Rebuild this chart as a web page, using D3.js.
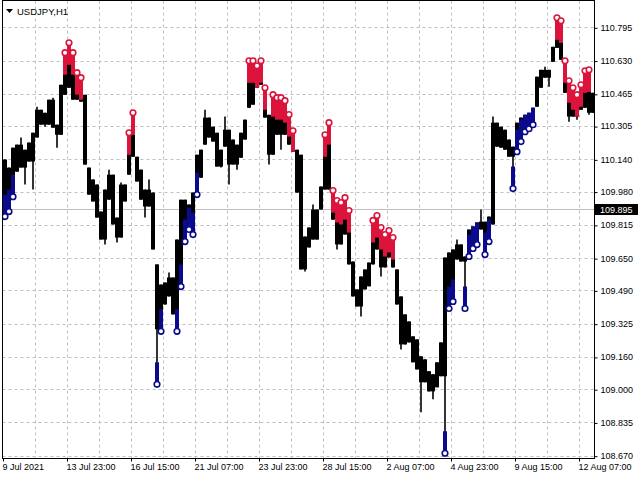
<!DOCTYPE html>
<html><head><meta charset="utf-8">
<script src="https://cdn.jsdelivr.net/npm/d3@7/dist/d3.min.js"></script>
<style>
html,body{margin:0;padding:0;background:#fff;}
svg{display:block;}
text{font-family:"Liberation Sans",Arial,sans-serif;}
</style></head>
<body>
<svg id="c" width="640" height="480"></svg>
<script>
// USDJPY H1 — each entry aggregates 4 hourly bars (high / low)
const highs = [
110.139,110.099,110.198,110.213,110.248,110.188,110.223,110.272,110.401,110.386,
110.371,110.436,110.446,110.312,110.510,110.659,110.708,110.659,110.560,110.535,
110.460,110.099,110.040,110.015,109.881,109.990,110.089,110.064,109.851,110.025,
110.015,110.262,110.361,110.153,110.089,109.990,110.040,109.975,109.619,109.519,
109.529,109.579,109.554,109.742,109.940,109.940,109.916,109.975,110.163,110.188,
110.386,110.347,110.302,110.272,110.188,110.352,110.287,110.238,110.213,110.272,
110.337,110.619,110.619,110.594,110.619,110.485,110.361,110.451,110.436,110.436,
110.421,110.352,110.272,110.188,110.163,109.757,109.802,109.916,109.891,110.005,
110.252,110.312,109.975,109.926,109.916,109.940,109.876,109.633,109.495,109.559,
109.594,109.628,109.827,109.851,109.792,109.757,109.777,109.742,109.594,109.460,
109.371,109.336,109.262,109.247,109.163,109.148,109.089,109.074,109.133,109.232,
109.653,109.678,109.693,109.742,109.718,109.658,109.792,109.807,109.827,109.891,
109.831,109.856,110.352,110.322,110.302,110.287,110.238,110.203,110.322,110.347,
110.361,110.371,110.396,110.550,110.584,110.599,110.584,110.698,110.832,110.817,
110.619,110.520,110.485,110.451,110.500,110.569,110.574,110.470
];
const lows = [
109.866,109.891,109.965,110.079,110.099,110.015,110.129,109.990,110.248,110.312,
110.302,110.312,110.297,110.198,110.262,110.460,110.495,110.436,110.436,110.426,
110.114,109.965,109.931,109.851,109.742,109.718,109.940,109.817,109.727,109.752,
109.931,110.064,110.153,110.030,109.940,109.851,109.906,109.693,109.034,109.297,
109.420,109.460,109.371,109.297,109.519,109.742,109.802,109.777,109.975,110.049,
110.213,110.248,110.228,110.104,110.099,110.203,110.015,110.114,110.089,110.148,
110.238,110.396,110.411,110.495,110.510,110.347,110.114,110.163,110.262,110.188,
110.262,110.213,110.178,109.975,109.594,109.584,109.703,109.742,109.742,109.891,
109.990,109.990,109.841,109.693,109.718,109.767,109.619,109.460,109.410,109.361,
109.495,109.510,109.619,109.693,109.559,109.604,109.653,109.604,109.420,109.197,
109.222,109.232,109.133,109.098,108.885,109.034,108.989,108.950,109.009,109.064,
108.692,109.410,109.445,109.643,109.633,109.410,109.668,109.708,109.727,109.792,
109.678,109.742,109.817,110.203,110.198,110.188,110.153,110.005,110.188,110.238,
110.287,110.302,110.322,110.401,110.495,110.545,110.500,110.624,110.693,110.634,
110.470,110.327,110.352,110.337,110.386,110.396,110.361,110.371
];
const sellSignals = [15,16,17,18,19,31,32,61,62,63,64,65,67,68,69,70,71,72,80,81,82,83,84,85,86,92,93,94,95,96,97,138,139,140,141,142,143,144,145,146];
const buySignals = [0,1,2,38,39,43,44,45,46,47,48,110,111,112,115,116,117,118,120,121,127,128,129,130,131,132];
const barsPerEntry = 4;
const tickBars = [0,64,128,192,256,320,384,448,512,576];
const tickLabels = ["9 Jul 2021","13 Jul 23:00","16 Jul 15:00","21 Jul 07:00","23 Jul 23:00","28 Jul 15:00","2 Aug 07:00","4 Aug 23:00","9 Aug 15:00","12 Aug 07:00"];
const priceTicks = [110.795,110.630,110.465,110.305,110.140,109.980,109.815,109.650,109.490,109.325,109.160,109.000,108.835,108.670];
const currentPrice = 109.895;
const symbolTitle = "USDJPY,H1";

const svg = d3.select("#c");
const L = 2.5, R = 594.5, T = 0.5, B = 458.5;
const nBars = highs.length * barsPerEntry;
const x = d3.scaleLinear().domain([0, nBars]).range([3, 3 + nBars]);
const y = d3.scaleLinear().domain([108.670, 110.795]).range([455.7, 27.3]);

svg.append("defs").append("clipPath").attr("id","pl")
  .append("rect").attr("x",L).attr("y",T).attr("width",R-L).attr("height",B-T);

const grid = svg.append("g").attr("stroke","#c0c0c0").attr("stroke-dasharray","3,3").attr("stroke-width",1);
grid.selectAll("line.h").data(priceTicks).join("line")
  .attr("x1",L).attr("x2",R)
  .attr("y1",d=>Math.round(y(d))+0.5).attr("y2",d=>Math.round(y(d))+0.5);
grid.selectAll("line.v").data(d3.range(32, nBars, 32)).join("line")
  .attr("y1",T).attr("y2",B)
  .attr("x1",d=>Math.round(x(d))+0.5).attr("x2",d=>Math.round(x(d))+0.5);

svg.append("line").attr("x1",L).attr("x2",R)
  .attr("y1",Math.round(y(currentPrice))+0.5).attr("y2",Math.round(y(currentPrice))+0.5)
  .attr("stroke","#c0c0c0").attr("stroke-width",1);

const plot = svg.append("g").attr("clip-path","url(#pl)");
const entries = highs.map((h,i)=>({i, h, l: lows[i]}));
const med3 = (arr,i)=>d3.median([arr[Math.max(0,i-1)], arr[i], arr[Math.min(arr.length-1,i+1)]]);
entries.forEach(d=>{
  d.bh = Math.min(d.h, med3(highs,d.i));
  d.bl = Math.max(d.l, med3(lows,d.i));
  if (d.bl > d.bh) { const m=(d.h+d.l)/2; d.bh=m; d.bl=m; }
});
const x0 = d=>x(d.i*barsPerEntry);
const cx = d=>x(d.i*barsPerEntry + barsPerEntry/2);

// body of each group (typical range), stepped like dense bars
plot.append("g").selectAll("rect").data(entries).join("rect")
  .attr("x",x0).attr("width",barsPerEntry)
  .attr("y",d=>y(d.bh)).attr("height",d=>Math.max(2, y(d.bl)-y(d.bh)))
  .attr("fill","#000");
// full high-low range as thin bars
plot.append("g").selectAll("line").data(entries).join("line")
  .attr("x1",cx).attr("x2",cx)
  .attr("y1",d=>y(d.h)).attr("y2",d=>y(d.l))
  .attr("stroke","#000").attr("stroke-width",1.6);

const RED = "#DC143C", BLUE = "#0A0A8C";
const depth = 20;
const sell = sellSignals.map(i=>entries[i]);
const buy = buySignals.map(i=>entries[i]);

plot.append("g").selectAll("rect").data(sell).join("rect")
  .attr("x",x0).attr("width",barsPerEntry)
  .attr("y",d=>y(d.h))
  .attr("height",d=>Math.min(depth, y(d.l)-y(d.h)))
  .attr("fill",RED);
plot.append("g").selectAll("rect").data(buy).join("rect")
  .attr("x",x0).attr("width",barsPerEntry)
  .attr("y",d=>Math.max(y(d.h), y(d.l)-depth))
  .attr("height",d=>Math.min(depth, y(d.l)-y(d.h)))
  .attr("fill",BLUE);

plot.append("g").selectAll("circle").data(sell).join("circle")
  .attr("cx",cx).attr("cy",d=>y(d.h)-2)
  .attr("r",2.8).attr("fill","#fff").attr("stroke",RED).attr("stroke-width",1.6);
plot.append("g").selectAll("circle").data(buy).join("circle")
  .attr("cx",cx).attr("cy",d=>y(d.l)+2)
  .attr("r",2.8).attr("fill","#fff").attr("stroke",BLUE).attr("stroke-width",1.6);

svg.append("rect").attr("x",L).attr("y",T).attr("width",R-L).attr("height",B-T)
  .attr("fill","none").attr("stroke","#000").attr("stroke-width",1);

const ya = svg.append("g").attr("transform",`translate(${R},0)`)
  .call(d3.axisRight(y).tickValues(priceTicks).tickFormat(d3.format(".3f")).tickSize(3).tickPadding(3));
ya.select(".domain").remove();
ya.selectAll("line").attr("stroke","#000").attr("transform","translate(0,0.5)");
ya.selectAll("text").attr("font-size","9px").attr("fill","#000")
  .attr("font-family","'Liberation Sans',Arial,sans-serif");

const xa = svg.append("g").attr("transform",`translate(0,${B})`)
  .call(d3.axisBottom(x).tickValues(tickBars).tickFormat((d,i)=>tickLabels[i]).tickSize(3).tickPadding(2));
xa.select(".domain").remove();
xa.selectAll("line").attr("stroke","#000");
xa.selectAll("text").attr("font-size","9px").attr("fill","#000").attr("text-anchor","start")
  .attr("dx","-1").attr("font-family","'Liberation Sans',Arial,sans-serif");

const cyp = Math.round(y(currentPrice))+0.5;
svg.append("rect").attr("x",595).attr("y",cyp-5.5).attr("width",43).attr("height",11).attr("fill","#000");
svg.append("text").attr("x",600).attr("y",cyp).attr("dy","0.34em")
  .attr("font-size","9px").attr("fill","#fff").text(d3.format(".3f")(currentPrice));

svg.append("path").attr("d","M6,9 L13,9 L9.5,13 Z").attr("fill","#000");
svg.append("text").attr("x",17).attr("y",15).attr("font-size","9.5px").attr("fill","#000").text(symbolTitle);
</script>
</body></html>
